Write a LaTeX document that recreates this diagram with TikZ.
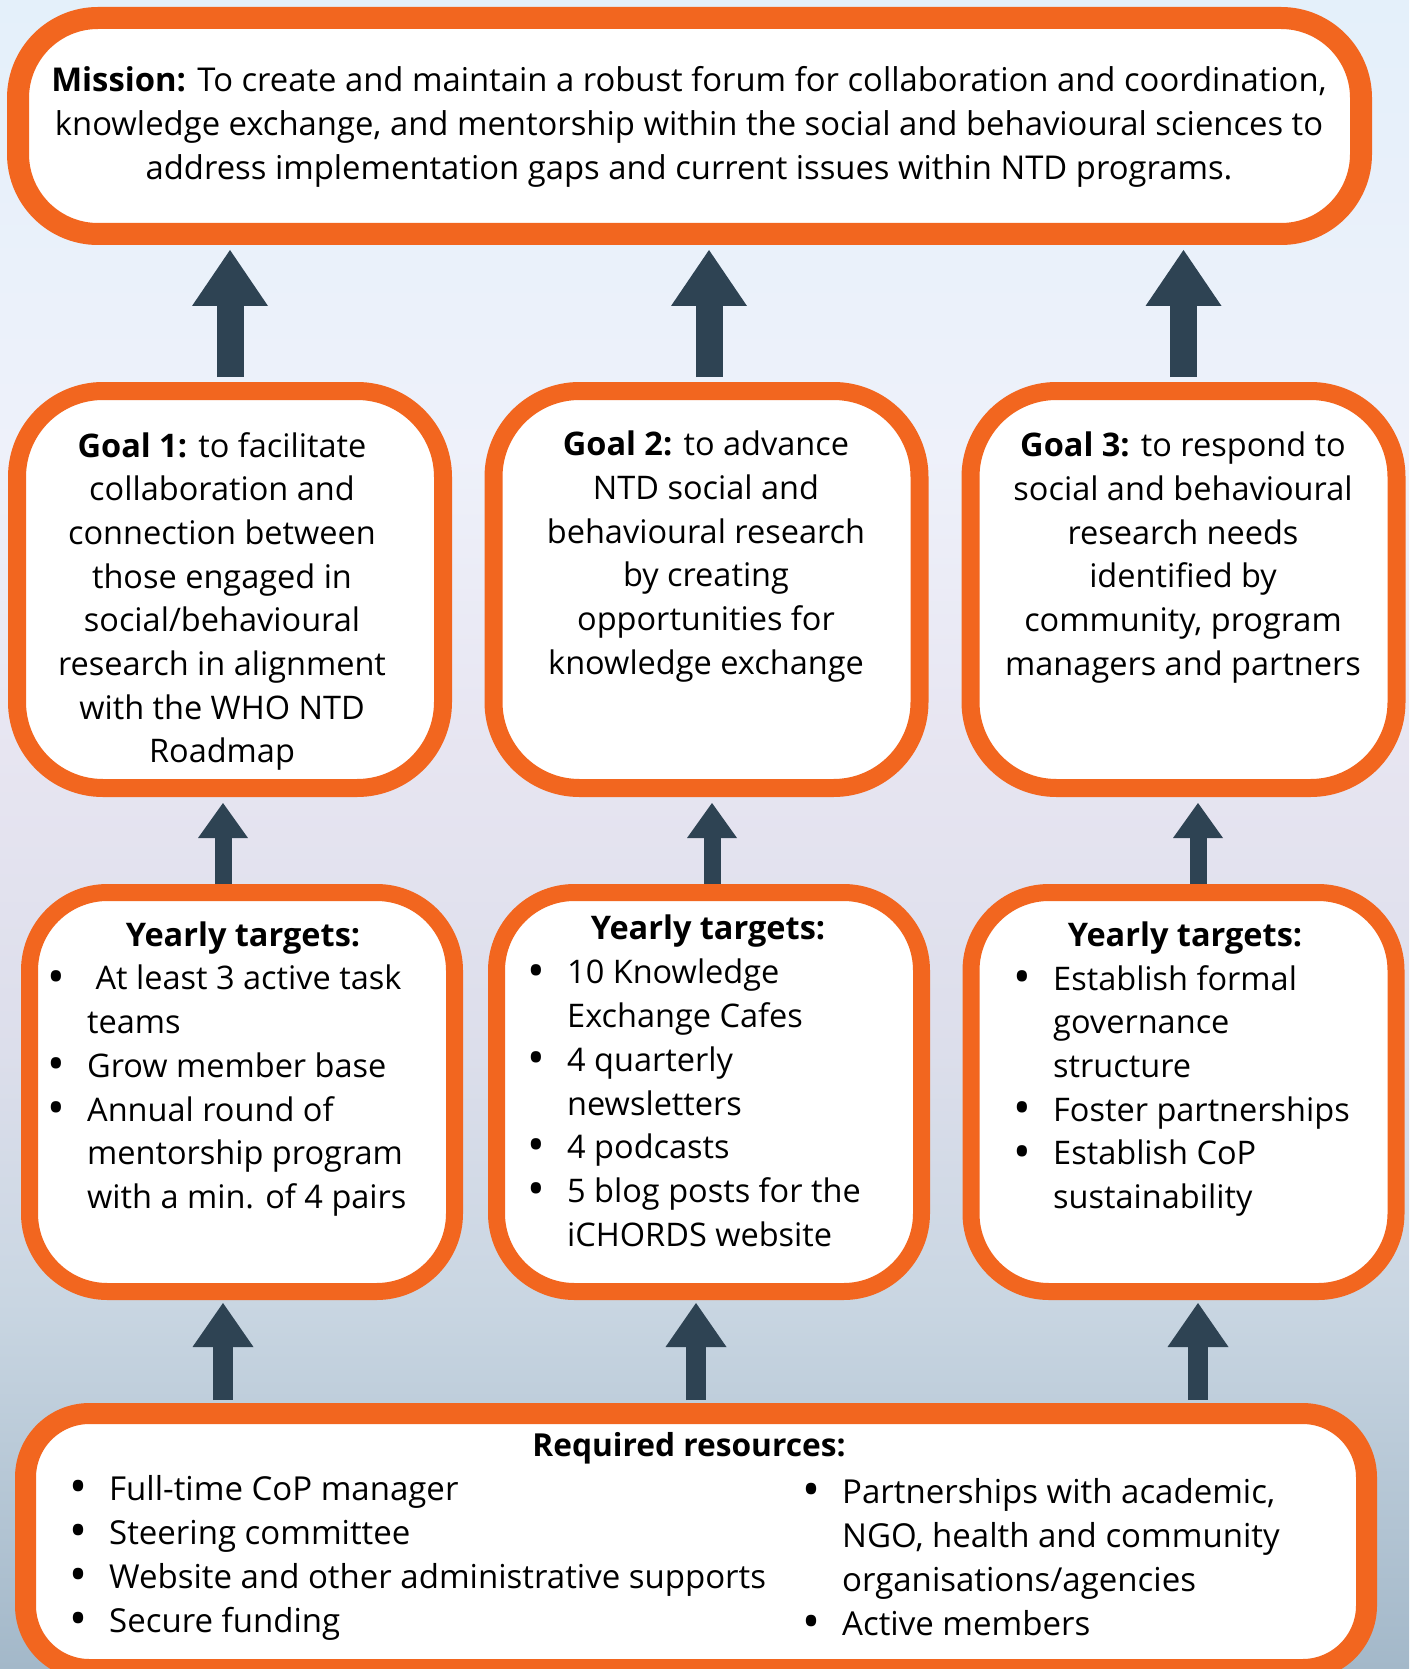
\documentclass[tikz,border=0pt]{standalone}
\usepackage{fontspec}
\setmainfont{Open Sans}
\usepackage{tikz}
\usetikzlibrary{arrows.meta}
\usetikzlibrary{positioning}

\definecolor{ntdorange}{HTML}{F2661F}
\definecolor{slate}{HTML}{2E4353}
\definecolor{bgtop}{HTML}{E4F0FA}
\definecolor{bgpale}{HTML}{EEF1FA}
\definecolor{bglav}{HTML}{E7E5F1}
\definecolor{bgmid}{HTML}{DCDEEB}
\definecolor{bgsea}{HTML}{C9D6E2}
\definecolor{bgbot}{HTML}{A3B8C9}
\pgfdeclareverticalshading{skysea}{100bp}{color(0bp)=(bgbot); color(25bp)=(bgbot); color(36bp)=(bgsea); color(43.5bp)=(bgmid); color(52.5bp)=(bglav); color(61.5bp)=(bgpale); color(75bp)=(bgtop); color(100bp)=(bgtop)}

\newcommand{\bul}{\makebox[38.5pt][l]{\hspace{-1pt}\raisebox{-0.1em}{\scalebox{1.45}{\textbullet}}}}
\newcommand{\ind}{\hspace*{38.5pt}}

\tikzstyle{block} = [rectangle, draw=ntdorange, fill=white, inner sep=0pt]
\tikzstyle{mission} = [block, line width=22pt, minimum width=1343pt, minimum height=216pt, rounded corners=80pt]
\tikzstyle{goal} = [block, line width=18pt, minimum width=426pt, minimum height=397pt, rounded corners=86pt]
\tikzstyle{target} = [block, line width=17pt, minimum width=425pt, minimum height=399pt, rounded corners=78pt]
\tikzstyle{resource} = [block, line width=21pt, minimum width=1341pt, minimum height=256pt, rounded corners=64pt]
\tikzstyle{txt} = [inner sep=0pt, font=\fontsize{32.5}{43.7}\selectfont]
\tikzstyle{ctxt} = [txt, align=center, anchor=north]
\tikzstyle{ltxt} = [txt, align=left, anchor=north west]
\tikzstyle{line1} = [draw=slate, line width=27pt, -{Triangle[width=76pt,length=56pt,line width=0pt]}]
\tikzstyle{line2} = [draw=slate, line width=17pt, -{Triangle[width=50pt,length=35pt,line width=0pt]}]
\tikzstyle{line3} = [draw=slate, line width=20pt, -{Triangle[width=61pt,length=44pt,line width=0pt]}]

\begin{document}
\begin{tikzpicture}[x=1pt, y=-1pt]
	\useasboundingbox (0,0) rectangle (1409,1669);
	\fill [shading=skysea] (0,0) rectangle (1409,1669);
	
	% boxes
	\node [mission] (mission) at (689.5,126) {};
	\node [goal] (g1) at (230,589.5) {};
	\node [goal] (g2) at (706.5,589.5) {};
	\node [goal] (g3) at (1183.5,589.5) {};
	\node [target] (t1) at (242,1092) {};
	\node [target] (t2) at (709,1092) {};
	\node [target] (t3) at (1183.5,1092) {};
	\node [resource] (res) at (696,1541.5) {};
	
	% texts
	\node [ctxt, font=\fontsize{32.8}{44}\selectfont] (missiontxt) at (689,66) {\textbf{Mission:} To create and maintain a robust forum for collaboration and coordination,\\ knowledge exchange, and mentorship within the social and behavioural sciences to\\ address implementation gaps and current issues within NTD programs.};
	\node [ctxt] (g1txt) at (222,432) {\textbf{Goal 1:} to facilitate\\ collaboration and\\ connection between\\ those engaged in\\ social/behavioural\\ research in alignment\\ with the WHO NTD\\ Roadmap};
	\node [ctxt] (g2txt) at (706,431) {\textbf{Goal 2:} to advance\\ NTD social and\\ behavioural research\\ by creating\\ opportunities for\\ knowledge exchange};
	\node [ctxt] (g3txt) at (1183,432) {\textbf{Goal 3:} to respond to\\ social and behavioural\\ research needs\\ identified by\\ community, program\\ managers and partners};
	
	\node [ctxt] (t1head) at (243,922) {\textbf{Yearly targets:}};
	\node [ltxt] (t1txt) at (48.5,965) {\bul\ At least 3 active task\\ \ind teams\\ \bul Grow member base\\ \bul Annual round of\\ \ind mentorship program\\ \ind with a min. of 4 pairs};
	\node [ctxt] (t2head) at (708,915) {\textbf{Yearly targets:}};
	\node [ltxt] (t2txt) at (528.5,959) {\bul 10 Knowledge\\ \ind Exchange Cafes\\ \bul 4 quarterly\\ \ind newsletters\\ \bul 4 podcasts\\ \bul 5 blog posts for the\\ \ind iCHORDS website};
	\node [ctxt] (t3head) at (1185,922) {\textbf{Yearly targets:}};
	\node [ltxt] (t3txt) at (1014.5,965) {\bul Establish formal\\ \ind governance\\ \ind structure\\ \bul Foster partnerships\\ \bul Establish CoP\\ \ind sustainability};
	
	\node [ctxt, font=\fontsize{31.7}{44}\selectfont] (reshead) at (689,1432.5) {\textbf{Required resources:}};
	\node [ltxt, font=\fontsize{33}{44}\selectfont] (resleft) at (70.5,1475) {\bul Full-time CoP manager\\ \bul Steering committee\\ \bul Website and other administrative supports\\ \bul Secure funding};
	\node [ltxt, font=\fontsize{33}{44}\selectfont] (resright) at (803.5,1478) {\bul Partnerships with academic,\\ \ind NGO, health and community\\ \ind organisations/agencies\\ \bul Active members};
	
	% Draw edges
	\path [line1, shorten <=5pt, shorten >=5pt] (g1.north) -- (g1.north |- mission.south);
	\path [line1, shorten <=5pt, shorten >=5pt] ([xshift=2.5pt]g2.north) -- ([xshift=2.5pt]g2.north |- mission.south);
	\path [line1, shorten <=5pt, shorten >=5pt] (g3.north) -- (g3.north |- mission.south);
	
	\path [line2, shorten >=6pt] ([xshift=-19pt]t1.north) -- ([xshift=-19pt]t1.north |- g1.south);
	\path [line2, shorten >=6pt] ([xshift=3pt]t2.north) -- ([xshift=3pt]t2.north |- g2.south);
	\path [line2, shorten >=6pt] ([xshift=14.5pt]t3.north) -- ([xshift=14.5pt]t3.north |- g3.south);
	
	\path [line3, shorten <=3pt, shorten >=3pt] ([xshift=-19pt]t1.south |- res.north) -- ([xshift=-19pt]t1.south);
	\path [line3, shorten <=3pt, shorten >=3pt] ([xshift=-13pt]t2.south |- res.north) -- ([xshift=-13pt]t2.south);
	\path [line3, shorten <=3pt, shorten >=3pt] ([xshift=14.5pt]t3.south |- res.north) -- ([xshift=14.5pt]t3.south);
	
\end{tikzpicture}
\end{document}
